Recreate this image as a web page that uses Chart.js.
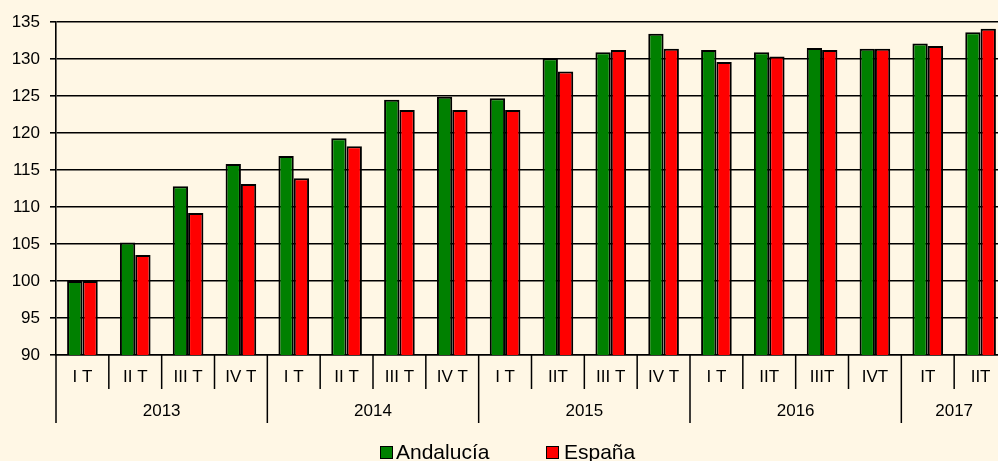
<!DOCTYPE html>
<html><head><meta charset="utf-8">
<script src="https://cdn.jsdelivr.net/npm/chart.js@4/dist/chart.umd.min.js"></script>
<style>
html,body{margin:0;padding:0;background:#FFF7E5;overflow:hidden;width:998px;height:461px;}
#wrap{position:relative;width:998px;height:461px;overflow:hidden;background:#FFF7E5;}
canvas{position:absolute;left:0;top:0;}
.leg{position:absolute;font-family:"Liberation Sans",Arial,sans-serif;font-size:21px;color:#000;line-height:21px;white-space:nowrap;}
.sw{position:absolute;width:11px;height:11px;border:1px solid #000;}
</style></head><body>
<div id="wrap"><canvas id="c" width="1007" height="461" style="width:1007px;height:461px"></canvas></div>
<script>
const quarters = ['I T','II T','III T','IV T','I T','II T','III T','IV T','I T','IIT','III T','IV T','I T','IIT','IIIT','IVT','IT','IIT'];
const years = ['2013','2014','2015','2016','2017'];
const quartersPerYear = [4,4,4,4,2];
const andalucia = [100,105.2,112.8,115.8,116.9,119.3,124.5,124.9,124.7,130.1,130.9,133.4,131.2,130.9,131.5,131.4,132.1,133.6];
const espana = [100,103.5,109.2,113.1,113.9,118.2,123.1,123.1,123.1,128.3,131.2,131.4,129.6,130.35,131.2,131.4,131.75,134.1];
const seriesNames = ['Andalucía','España'];
const seriesColors = ['#008000','#FF0000'];

const F = '"Liberation Sans", Arial, sans-serif';

const yearPlugin = {
  id:'years',
  afterDraw(chart){
    const x = chart.scales.x, ctx = chart.ctx;
    const n = quarters.length, w = (x.right - x.left)/n;
    const b = chart.chartArea.bottom;
    ctx.save();
    ctx.strokeStyle = '#000'; ctx.lineWidth = 1.5;
    ctx.beginPath();
    for (let i=0;i<=n;i++){
      const px = x.left + i*w;
      ctx.moveTo(px, b); ctx.lineTo(px, b+34);
    }
    let start = 0;
    const bounds = [0];
    quartersPerYear.forEach(c=>{ start += c; bounds.push(start); });
    bounds.forEach(k=>{ const px = x.left + k*w; ctx.moveTo(px,b); ctx.lineTo(px,b+68); });
    ctx.stroke();
    ctx.fillStyle = '#000';
    ctx.font = '17px ' + F;
    ctx.textAlign = 'center'; ctx.textBaseline = 'middle';
    years.forEach((yr,i)=>{
      const cx = x.left + (bounds[i]+bounds[i+1])/2*w;
      ctx.fillText(yr, cx, b+56);
    });
    ctx.restore();
  }
};

new Chart(document.getElementById('c'), {
  type:'bar',
  data:{
    labels: quarters,
    datasets:[
      {label:seriesNames[0], data:andalucia, backgroundColor:seriesColors[0], borderColor:'#000', borderWidth:2, categoryPercentage:0.58, barPercentage:1},
      {label:seriesNames[1], data:espana, backgroundColor:seriesColors[1], borderColor:'#000', borderWidth:2, categoryPercentage:0.58, barPercentage:1}
    ]
  },
  options:{
    responsive:false, animation:false, devicePixelRatio:1,
    layout:{padding:{top:22,left:0,right:0,bottom:0}},
    plugins:{legend:{display:false}, tooltip:{enabled:false}},
    scales:{
      x:{
        grid:{display:false, drawTicks:false},
        border:{display:true, color:'#000', width:1.5},
        ticks:{font:{size:17,family:F}, color:'#000', padding:12, maxRotation:0, minRotation:0, autoSkip:false},
        afterFit(s){ s.height = 106; }
      },
      y:{
        min:90, max:135,
        ticks:{stepSize:5, font:{size:17,family:F}, color:'#000', padding:10},
        grid:{color:'#000', lineWidth:1.6, tickLength:6},
        border:{color:'#000', width:1.6},
        afterFit(s){ s.width = 56; }
      }
    }
  },
  plugins:[yearPlugin]
});

// HTML legend
const wrap = document.getElementById('wrap');
const legX = [[380,396],[546,564]];
seriesNames.forEach((nm,i)=>{
  const sw = document.createElement('div'); sw.className='sw';
  sw.style.left = legX[i][0]+'px'; sw.style.top='446px'; sw.style.background = seriesColors[i];
  const t = document.createElement('div'); t.className='leg';
  t.style.left = legX[i][1]+'px'; t.style.top='441px'; t.textContent = nm;
  wrap.appendChild(sw); wrap.appendChild(t);
});
</script>
</body></html>
